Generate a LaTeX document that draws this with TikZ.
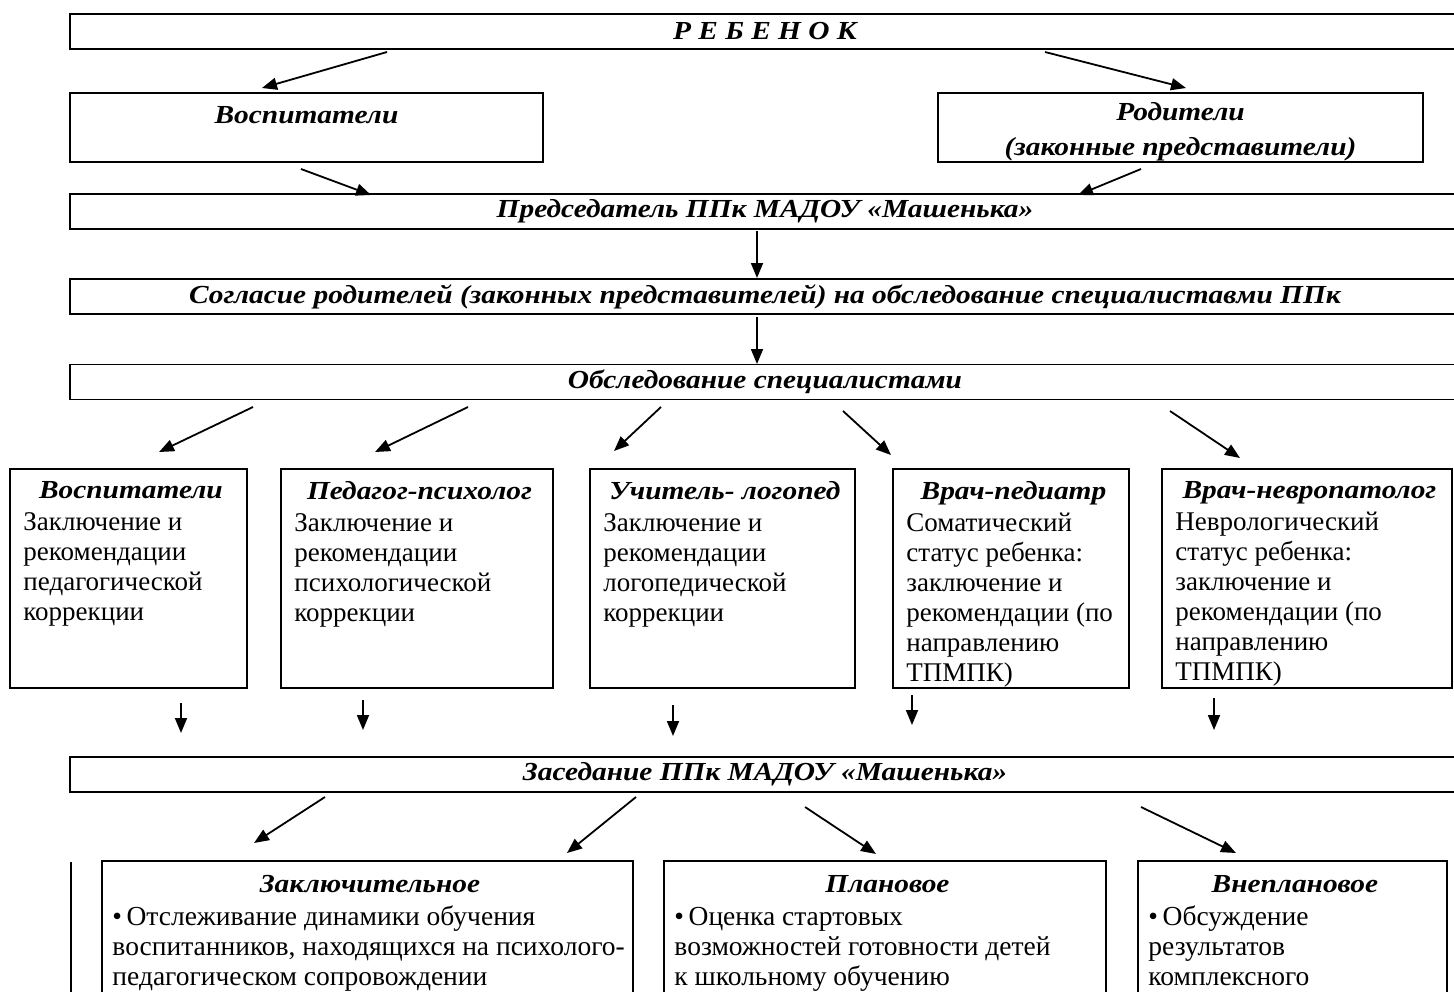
\documentclass[tikz,border=0pt]{standalone}
\usepackage{fontspec}
\setmainfont{Liberation Serif}[BoldItalicFeatures={FakeStretch=1.13}]
\usetikzlibrary{arrows.meta}
\usetikzlibrary{positioning}

\newcommand\bodysize{\fontsize{27}{30}\selectfont}
\newcommand\notesize{\fontsize{27.5}{30}\selectfont}
\newcommand\headsize{\fontsize{26}{30}\selectfont\bfseries\itshape}

\tikzset{
  band/.style={draw, line width=1.5pt, minimum width=1390pt, minimum height=35pt, inner sep=0pt, font=\headsize},
  pair/.style={draw, line width=1.5pt, minimum height=69pt, inner sep=0pt, align=center,
    font=\fontsize{26}{35}\selectfont\bfseries\itshape},
  card/.style={draw, line width=1.5pt, inner sep=0pt},
  cardtext/.style={anchor=north west, inner sep=0pt},
  arr/.style={-{Triangle[length=15pt,width=12pt]}, line width=1.8pt}
}

\begin{document}
\begin{tikzpicture}[x=1pt, y=-1pt]
\useasboundingbox (0,0) rectangle (1454,991);
\clip (0,0) rectangle (1454,991);

% bands
\node[band] (child) at (765,31.5) {Р Е Б Е Н О К};
\node[band] (chair) at (765,211.5) {Председатель ППк МАДОУ «Машенька»};
\node[band] (consent) at (765,296.5) {Согласие родителей (законных представителей) на обследование специалиставми ППк};
\node[band] (exam) at (765,382) {Обследование специалистами};
\node[band] (council) at (765,774.5) {Заседание ППк МАДОУ «Машенька»};

% teachers and parents
\node[pair, minimum width=473pt] (teachers) at (306.5,127.5) {\rule{0pt}{26pt}Воспитатели\\ \mbox{}};
\node[pair, minimum width=485pt] (parents) at (1180.5,127.5) {\rule{0pt}{26pt}Родители\\(законные представители)};

% specialists
\foreach \n/\x/\w/\hd/\txt [evaluate=\w as \tw using \w-22] in {
    educ/128.5/237/Воспитатели/{Заключение и\\рекомендации\\педагогической\\коррекции},
    psych/417/272/Педагог-психолог/{Заключение и\\рекомендации\\психологической\\коррекции},
    logo/722.5/265/Учитель- логопед/{Заключение и\\рекомендации\\логопедической\\коррекции},
    pedi/1011/236/Врач-педиатр/{Соматический\\статус ребенка:\\заключение и\\рекомендации (по\\направлению\\ТПМПК)},
    neuro/1307/290/Врач-невропатолог/{Неврологический\\статус ребенка:\\заключение и\\рекомендации (по\\направлению\\ТПМПК)}}
{
  \node[card, minimum width=\w pt, minimum height=219pt] (\n) at (\x,578.5) {};
  \node[cardtext] (\n-text) at ([xshift=14pt, yshift=-13pt]\n.north west)
    {\parbox[t]{\tw pt}{{\centering\headsize\hd\par}\vspace{2pt}\raggedright\normalfont\bodysize\txt}};
}

% meetings
\draw[line width=1.5pt] (71,862) -- (71,1000);
\foreach \n/\x/\w/\hd/\txt [evaluate=\w as \tw using \w-16] in {
    final/367.5/531/Заключительное/{•\thinspace Отслеживание динамики обучения\\воспитанников, находящихся на психолого-\\педагогическом сопровождении},
    planned/885/442/Плановое/{•\thinspace Оценка стартовых\\возможностей готовности детей\\к школьному обучению},
    extra/1292.5/309/Внеплановое/{•\thinspace Обсуждение\\результатов\\комплексного}}
{
  \node[card, minimum width=\w pt, minimum height=149pt] (\n) at (\x,935.5) {};
  \node[cardtext] (\n-text) at ([xshift=11pt, yshift=-15pt]\n.north west)
    {\parbox[t]{\tw pt}{{\centering\headsize\hd\par}\vspace{3pt}\raggedright\normalfont\notesize\txt}};
}

% arrows
\foreach \xa/\ya/\xb/\yb in {387/52/262/88, 1045/52/1186/88,
    301/169/371/195, 1141/169/1078/195,
    757/231/757/278, 757/317/757/364,
    253/407/159/452, 468/407/375/452, 661/407/614/451, 843/411/891/455, 1170/411/1240/458,
    181/703/181/733, 363/700/363/730, 673/705/673/736, 912/695/912/725, 1214/698/1214/730,
    325/797/254/843, 636/797/567/853, 805/807/876/854, 1141/807/1236/853}
  \draw[arr] (\xa,\ya) -- (\xb,\yb);

\end{tikzpicture}
\end{document}
